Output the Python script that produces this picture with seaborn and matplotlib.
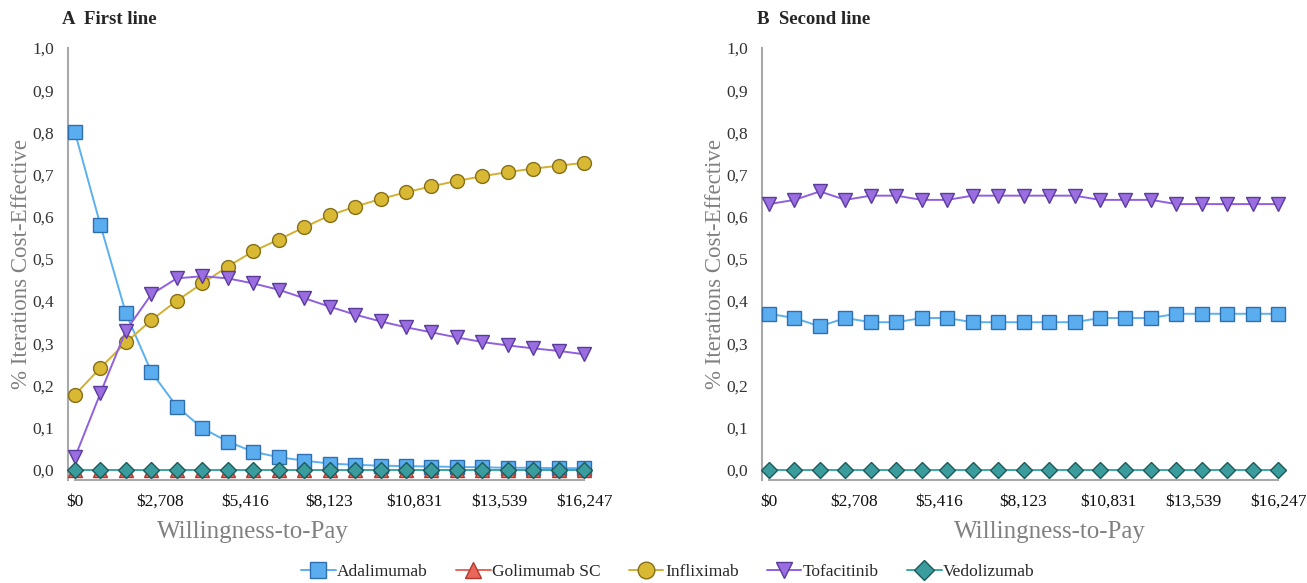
import numpy as np
import pandas as pd
import seaborn as sns
import matplotlib.pyplot as plt

sns.set_style("white")
plt.rcParams['font.family'] = ['Liberation Serif', 'DejaVu Serif']

# Willingness-to-pay grid (21 points)
wtp = [0, 812, 1625, 2437, 3249, 4062, 4874, 5686, 6499, 7311, 8123,
       8936, 9748, 10560, 11373, 12185, 12998, 13810, 14622, 15435, 16247]
tick_vals = [0, 2708, 5416, 8123, 10831, 13539, 16247]
tick_labels = ["$0", "$2,708", "$5,416", "$8,123", "$10,831", "$13,539", "$16,247"]

# A - first line
ada_1 = [0.80, 0.58, 0.371, 0.232, 0.150, 0.099, 0.067, 0.043, 0.030, 0.022, 0.015,
         0.012, 0.010, 0.009, 0.008, 0.007, 0.006, 0.005, 0.005, 0.004, 0.004]
gol_1 = [0.0] * 21
inf_1 = [0.178, 0.242, 0.302, 0.355, 0.401, 0.442, 0.482, 0.518, 0.546, 0.575, 0.603,
         0.624, 0.642, 0.658, 0.672, 0.685, 0.696, 0.706, 0.714, 0.721, 0.728]
tof_1 = [0.030, 0.182, 0.330, 0.416, 0.454, 0.459, 0.454, 0.442, 0.427, 0.407, 0.387,
         0.368, 0.352, 0.338, 0.326, 0.314, 0.303, 0.295, 0.288, 0.282, 0.274]
ved_1 = [0.0] * 21

# B - second line
ada_2 = [0.37, 0.36, 0.34, 0.36, 0.35, 0.35, 0.36, 0.36, 0.35, 0.35, 0.35,
         0.35, 0.35, 0.36, 0.36, 0.36, 0.37, 0.37, 0.37, 0.37, 0.37]
tof_2 = [0.63, 0.64, 0.66, 0.64, 0.65, 0.65, 0.64, 0.64, 0.65, 0.65, 0.65,
         0.65, 0.65, 0.64, 0.64, 0.64, 0.63, 0.63, 0.63, 0.63, 0.63]
ved_2 = [0.0] * 21

styles = {
    "Adalimumab":   dict(marker="s", line="#5ab0f0", fill="#5aaef0", edge="#2f6fb0", ms=10),
    "Golimumab SC": dict(marker="^", line="#e8665a", fill="#e8665a", edge="#b03a30", ms=10),
    "Infliximab":   dict(marker="o", line="#d4b030", fill="#d9b833", edge="#85701a", ms=10),
    "Tofacitinib":  dict(marker="v", line="#9060e0", fill="#9a6ee0", edge="#5a3a9a", ms=10),
    "Vedolizumab":  dict(marker="D", line="#3aa8a8", fill="#3a9c9c", edge="#1f5a5a", ms=8),
}

panels = [
    ("A  First line", {"Adalimumab": ada_1, "Golimumab SC": gol_1, "Infliximab": inf_1,
                       "Tofacitinib": tof_1, "Vedolizumab": ved_1}),
    ("B  Second line", {"Adalimumab": ada_2, "Tofacitinib": tof_2, "Vedolizumab": ved_2}),
]

fig = plt.figure(figsize=(13.07, 5.83), dpi=100)
W, H = 1307, 583
lefts = [68, 762]
xlabel_x = [0.355, 0.553]
title_x = [62, 757]
gray = "#a8a8a8"

for i, (title, series) in enumerate(panels):
    ax = fig.add_axes([lefts[i] / W, (H - 480) / H, 521 / W, 432 / H])
    for z, (name, vals) in enumerate(series.items()):
        st = styles[name]
        df = pd.DataFrame({"wtp": wtp, "p": vals})
        sns.lineplot(data=df, x="wtp", y="p", ax=ax, color=st["line"], lw=1.4,
                     marker=st["marker"], markersize=st["ms"], markerfacecolor=st["fill"],
                     markeredgecolor=st["edge"], markeredgewidth=1.0, zorder=3 + z,
                     clip_on=False, legend=False)
    ax.set_xlim(-223, 16400)
    ax.set_ylim(-0.024, 1.0)
    for s in ["top", "right"]:
        ax.spines[s].set_visible(False)
    ax.spines["left"].set_color(gray)
    ax.spines["bottom"].set_color(gray)
    ax.spines["left"].set_linewidth(1.5)
    ax.spines["bottom"].set_linewidth(1.5)
    ax.spines["bottom"].set_bounds(0, 16247)
    ax.set_yticks(np.round(np.arange(0, 1.01, 0.1), 1))
    ax.set_yticklabels([f"{v:.1f}".replace(".", ",") for v in np.arange(0, 1.01, 0.1)])
    ax.set_xticks(tick_vals)
    ax.set_xticklabels(tick_labels)
    ax.tick_params(axis="y", direction="inout", length=12, width=1.3, color=gray,
                   labelsize=12.5, labelcolor="#333333", pad=4)
    ax.tick_params(axis="x", direction="inout", length=14, width=1.3, color=gray,
                   labelsize=12.5, labelcolor="#111111", pad=3)
    ax.set_xlabel("Willingness-to-Pay", fontsize=18, color="#808080")
    ax.xaxis.set_label_coords(xlabel_x[i], -0.095)
    ax.set_ylabel("% Iterations Cost-Effective", fontsize=16.5, color="#808080")
    ax.yaxis.set_label_coords(-0.07, 0.5)
    fig.text(title_x[i] / W, 1 - 20 / H, title, fontsize=13.5, fontweight="bold",
             va="center", ha="left")

# shared legend
handles = []
for name, st in styles.items():
    h, = plt.plot([], [], color=st["line"], lw=1.4, marker=st["marker"],
                  markersize=st["ms"] + 2, markerfacecolor=st["fill"],
                  markeredgecolor=st["edge"], label=name)
    handles.append(h)
fig.legend(handles=handles, loc="center", bbox_to_anchor=(0.511, 1 - 572 / H), ncol=5,
           frameon=False, fontsize=12.5, handlelength=2.0, columnspacing=1.6,
           handletextpad=0.1)

fig.savefig("out.png", dpi=100)
